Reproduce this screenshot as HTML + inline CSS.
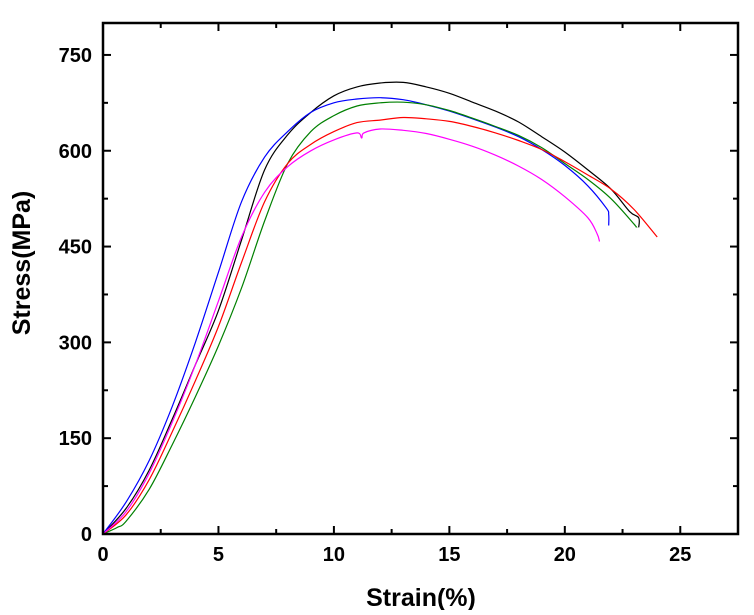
<!DOCTYPE html>
<html><head><meta charset="utf-8"><style>
body{margin:0;background:#fff;}
svg text{font-family:"Liberation Sans",Arial,sans-serif;font-weight:bold;}
</style></head><body>
<svg id="chart" width="754" height="610" xmlns="http://www.w3.org/2000/svg"></svg>
<script>
const xTicks=[0,5,10,15,20,25];
const yTicks=[0,150,300,450,600,750];
const seriesNames=["black","blue","green","red","magenta"];
const blackX=[0,1,2,3,4,5,6,7,8,9,10,11,12,13,14,15,16,17,18,19,20,21,22,22.8,23.2,23.2];
const blackY=[0,40,100,180,265,350,460,570,625,660,686,700,706,707,700,690,676,662,645,622,598,570,540,505,495,480];
const blueX=[0,1,2,3,4,5,6,7,8,9,10,11,12,13,14,15,16,17,18,19,20,21,21.8,21.9,21.9];
const blueY=[0,50,115,200,300,410,520,590,630,660,675,681,683,680,672,662,650,637,622,602,577,545,510,500,483];
const greenX=[0,0.6,1,2,3,4,5,6,7,8,9,10,11,12,13,14,15,16,17,18,19,20,21,22,23,23.1];
const greenY=[0,10,20,70,140,215,295,385,490,580,630,655,670,675,676,672,663,651,638,624,605,580,555,525,485,480];
const redX=[0,1,2,3,4,5,6,7,8,9,10,11,12,13,14,15,16,17,18,19,20,21,22,23,24];
const redY=[0,30,85,160,240,325,425,520,580,610,630,644,648,652,650,646,638,628,616,602,583,562,540,508,465];
const magentaX=[0,1,2,3,4,5,6,7,8,9,10,11,11.2,11.3,12,13,14,15,16,17,18,19,20,21,21.4,21.5];
const magentaY=[0,35,95,175,265,365,465,535,575,600,617,628,620,628,634,632,627,618,607,593,576,555,528,495,470,458];
const colors={black:"#000",blue:"#0000ff",green:"#008000",red:"#ff0000",magenta:"#ff00ff"};
const data={black:[blackX,blackY],blue:[blueX,blueY],green:[greenX,greenY],red:[redX,redY],magenta:[magentaX,magentaY]};
const L=103,R=738,T=23,B=534,XMAX=27.5,YMAX=800;
const sx=v=>L+v/XMAX*(R-L), sy=v=>B-v/YMAX*(B-T);
const svg=document.getElementById('chart');const NS="http://www.w3.org/2000/svg";
function mk(t,a){const e=document.createElementNS(NS,t);for(const k in a)e.setAttribute(k,a[k]);svg.appendChild(e);return e;}
function smooth(pts){let d='M'+pts[0][0].toFixed(1)+','+pts[0][1].toFixed(1);
 for(let i=0;i<pts.length-1;i++){const p0=pts[Math.max(0,i-1)],p1=pts[i],p2=pts[i+1],p3=pts[Math.min(pts.length-1,i+2)];
  const c1=[p1[0]+(p2[0]-p0[0])/6,p1[1]+(p2[1]-p0[1])/6],c2=[p2[0]-(p3[0]-p1[0])/6,p2[1]-(p3[1]-p1[1])/6];
  d+=' C'+c1.map(v=>v.toFixed(1))+' '+c2.map(v=>v.toFixed(1))+' '+p2.map(v=>v.toFixed(1));}
 return d;}
seriesNames.forEach(n=>{const [xs,ys]=data[n];
 const p=mk('path',{d:smooth(xs.map((x,i)=>[sx(x),sy(ys[i])])),fill:'none',stroke:colors[n],'stroke-width':1.2});
 
 });
const f=mk('rect',{x:L,y:T,width:R-L,height:B-T,fill:'none',stroke:'#000','stroke-width':2.5});


for(let v=0;v<=27.5;v+=2.5){const major=v%5===0,len=major?8:5;
 mk('line',{x1:sx(v),x2:sx(v),y1:B,y2:B-len,stroke:'#000','stroke-width':2});
 mk('line',{x1:sx(v),x2:sx(v),y1:T,y2:T+len,stroke:'#000','stroke-width':2});}
for(let v=0;v<=800;v+=75){const major=v%150===0,len=major?8:5;
 mk('line',{x1:L,x2:L+len,y1:sy(v),y2:sy(v),stroke:'#000','stroke-width':2});
 mk('line',{x1:R,x2:R-len,y1:sy(v),y2:sy(v),stroke:'#000','stroke-width':2});}
xTicks.forEach(v=>{const t=mk('text',{x:sx(v),y:561,'font-size':20,'text-anchor':'middle'});t.textContent=v;
 
 });
yTicks.forEach(v=>{const t=mk('text',{x:92,y:sy(v)+7,'font-size':20,'text-anchor':'end'});t.textContent=v;
 
 });
const xt=mk('text',{x:421,y:606,'font-size':25,'text-anchor':'middle'});xt.textContent='Strain(%)';


const yt=mk('text',{x:0,y:0,'font-size':25,'text-anchor':'middle',transform:'translate(30,263) rotate(-90)'});yt.textContent='Stress(MPa)';


</script>
</body></html>
